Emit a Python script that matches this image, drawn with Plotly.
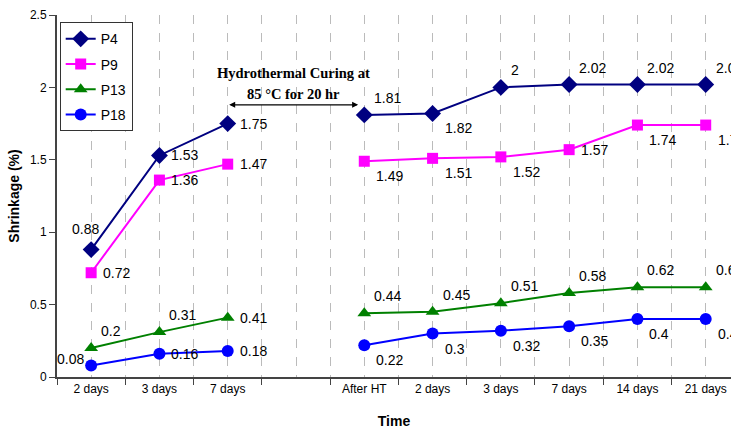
import plotly.graph_objects as go

categories = ["2 days", "3 days", "7 days", "", "After HT", "2 days", "3 days", "7 days", "14 days", "21 days"]
p4 = [0.88, 1.53, 1.75, None, 1.81, 1.82, 2, 2.02, 2.02, 2.02]
p9 = [0.72, 1.36, 1.47, None, 1.49, 1.51, 1.52, 1.57, 1.74, 1.74]
p13 = [0.2, 0.31, 0.41, None, 0.44, 0.45, 0.51, 0.58, 0.62, 0.62]
p18 = [0.08, 0.16, 0.18, None, 0.22, 0.3, 0.32, 0.35, 0.4, 0.4]

# label placement styles per point
pos4 = ["tc", "r", "r", None, "tr", "br", "tr", "tr", "tr", "tr"]
pos9 = ["r", "r", "r", None, "br", "br", "br", "r", "br", "br"]
pos13 = ["tr", "tr", "r", None, "tr", "tr", "tr", "tr", "tr", "tr"]
pos18 = ["l", "r", "r", None, "br", "br", "br", "br", "br", "br"]

# style -> (xanchor, xshift, yshift)
STYLE = {
    "r": ("left", 10, 0),
    "tr": ("left", 8, 17),
    "br": ("left", 10, -15),
    "tc": ("center", -6, 21),
    "l": ("right", -5, 6),
}

x = list(range(len(categories)))

series = [
    ("P4", p4, pos4, "#000080", "diamond", 13),
    ("P9", p9, pos9, "#FF00FF", "square", 11),
    ("P13", p13, pos13, "#008000", "triangle-up", 12),
    ("P18", p18, pos18, "#0000FF", "circle", 12),
]

fig = go.Figure()
for name, vals, pos, col, sym, sz in series:
    fig.add_trace(go.Scatter(
        x=x, y=vals, name=name, mode="lines+markers", legendgroup=name,
        line=dict(color=col, width=2),
        marker=dict(symbol=sym, size=sz, color=col),
        cliponaxis=False,
    ))
    for xi, v, p in zip(x, vals, pos):
        if v is None:
            continue
        xa, xs, ys = STYLE[p]
        fig.add_annotation(x=xi, y=v, xref="x", yref="y", text=f"{v:g}", showarrow=False,
                           xanchor=xa, yanchor="middle", xshift=xs, yshift=ys,
                           font=dict(family="Liberation Sans, Arial", size=14, color="black"))

# Hydrothermal curing annotation
fig.add_annotation(x=3.91, y=1.88, ax=2.0, ay=1.88, xref="x", yref="y", axref="x", ayref="y",
                   text="", showarrow=True, arrowhead=2, arrowside="end+start",
                   arrowsize=1, arrowwidth=1.2, arrowcolor="black")
fig.add_annotation(x=2.97, y=2.10, xref="x", yref="y", text="<b>Hydrothermal Curing at</b>",
                   showarrow=False, font=dict(family="Liberation Serif, Times New Roman", size=14.5, color="black"))
fig.add_annotation(x=2.97, y=1.955, xref="x", yref="y", text="<b>85 °C for 20 hr</b>",
                   showarrow=False, font=dict(family="Liberation Serif, Times New Roman", size=14.5, color="black"))

fig.update_layout(
    width=731, height=430,
    margin=dict(l=57, r=0, t=15, b=53),
    paper_bgcolor="white", plot_bgcolor="white",
    font=dict(family="Liberation Sans, Arial", size=12, color="black"),
    showlegend=True,
    legend=dict(x=0.004, y=0.98, xanchor="left", yanchor="top",
                bgcolor="white", bordercolor="#333333", borderwidth=1,
                font=dict(size=14), tracegroupgap=4, itemwidth=30),
    xaxis=dict(
        range=[-0.5, (731 - 91) / 68.3],
        tickmode="array", tickvals=x, ticktext=categories, ticks="",
        showgrid=True, gridcolor="#BBBBBB", griddash="dash", gridwidth=1,
        showline=True, linecolor="#444444", linewidth=2,
        minor=dict(tick0=-0.5, dtick=1, ticks="outside", ticklen=6, tickcolor="#444444",
                   showgrid=True, gridcolor="#BBBBBB", griddash="dash", gridwidth=1),
        zeroline=False, automargin=False,
        title=dict(text="<b>Time</b>", font=dict(size=14), standoff=21),
        tickfont=dict(size=12),
    ),
    yaxis=dict(
        range=[0, 2.5], dtick=0.5, tick0=0,
        ticks="outside", ticklen=6, tickcolor="#444444",
        showgrid=False, zeroline=False, automargin=False,
        showline=True, linecolor="#444444", linewidth=2,
        title=dict(text="<b>Shrinkage (%)</b>", font=dict(size=14), standoff=7),
        tickfont=dict(size=12),
    ),
)

fig.write_html("out.html", config={"displayModeBar": False},
               post_script="document.body.style.margin='0px';")
